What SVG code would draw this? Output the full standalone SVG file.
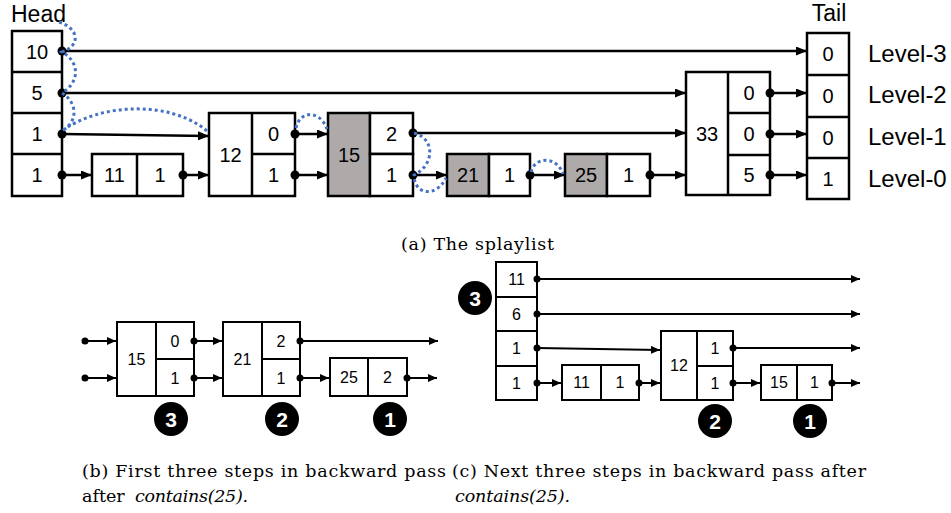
<svg xmlns="http://www.w3.org/2000/svg" width="951" height="513" viewBox="0 0 951 513">
<defs>
<marker id="ah" markerWidth="11" markerHeight="9" refX="10" refY="4.5" orient="auto" markerUnits="userSpaceOnUse"><path d="M0,0 L11,4.5 L0,9 z" fill="#000"/></marker>
<marker id="ahs" markerWidth="9" markerHeight="8" refX="9" refY="4" orient="auto" markerUnits="userSpaceOnUse"><path d="M0,0 L9,4 L0,8 z" fill="#000"/></marker>
</defs>
<style>
.box{fill:#fff;stroke:#000;stroke-width:2.5}
.gray{fill:#AEAAAA;stroke:#000;stroke-width:2.5}
.bx{fill:#fff;stroke:#000;stroke-width:2}
.dv{stroke:#000;stroke-width:2.5;fill:none}
.dvs{stroke:#000;stroke-width:2;fill:none}
.n{font-family:"Liberation Sans",Arial,sans-serif;font-size:20px;text-anchor:middle;fill:#000}
.ns{font-family:"Liberation Sans",Arial,sans-serif;font-size:16px;text-anchor:middle;fill:#000}
.lbl{font-family:"Liberation Sans",Arial,sans-serif;font-size:24px;fill:#000}
.ln{stroke:#000;stroke-width:2.5;fill:none;marker-end:url(#ah)}
.lns{stroke:#000;stroke-width:2;fill:none;marker-end:url(#ahs)}
.dot{fill:#000}
.sp{stroke:#4472C4;stroke-width:3;stroke-dasharray:3 3;fill:none}
.cap{font-family:"DejaVu Serif","Liberation Serif",serif;font-size:17.5px;fill:#000}
.it{font-style:italic}
.badge{fill:#000}
.bt{font-family:"Liberation Sans",Arial,sans-serif;font-size:21px;font-weight:bold;fill:#fff;text-anchor:middle}
</style>
<rect width="951" height="513" fill="#fff"/>

<!-- (a) labels -->
<text class="lbl" x="11" y="22" style="font-size:23px">Head</text>
<text class="lbl" x="829" y="21" text-anchor="middle" style="font-size:23px">Tail</text>
<text class="lbl" x="868" y="62">Level-3</text>
<text class="lbl" x="868" y="103">Level-2</text>
<text class="lbl" x="868" y="145">Level-1</text>
<text class="lbl" x="868" y="187">Level-0</text>

<g id="connectors">
<g id="conn-a">
<line class="ln" x1="62" y1="51" x2="806" y2="51"/>
<line class="ln" x1="62" y1="93" x2="685" y2="93"/>
<line class="ln" x1="770" y1="93" x2="806" y2="93"/>
<line class="ln" x1="62" y1="134" x2="208" y2="136"/>
<line class="ln" x1="295" y1="134" x2="327" y2="134"/>
<line class="ln" x1="413" y1="133" x2="685" y2="133"/>
<line class="ln" x1="770" y1="134" x2="806" y2="134"/>
<line class="ln" x1="62" y1="175" x2="91" y2="175"/>
<line class="ln" x1="183" y1="175" x2="208" y2="175"/>
<line class="ln" x1="295" y1="175" x2="327" y2="175"/>
<line class="ln" x1="413" y1="175" x2="446" y2="175"/>
<line class="ln" x1="530" y1="175" x2="564" y2="175"/>
<line class="ln" x1="650" y1="175" x2="685" y2="175"/>
<line class="ln" x1="770" y1="175" x2="806" y2="175"/>
</g>
<g id="conn-b">
<line class="lns" x1="85" y1="341" x2="116" y2="341"/>
<line class="lns" x1="85" y1="378" x2="116" y2="378"/>
<line class="lns" x1="194" y1="341" x2="222" y2="341"/>
<line class="lns" x1="194" y1="378" x2="222" y2="378"/>
<line class="lns" x1="300" y1="341" x2="438" y2="341"/>
<line class="lns" x1="300" y1="378" x2="329" y2="378"/>
<line class="lns" x1="407" y1="378" x2="437" y2="378"/>
</g>
<g id="conn-c">
<line class="lns" x1="537" y1="279" x2="860" y2="279"/>
<line class="lns" x1="537" y1="314" x2="860" y2="314"/>
<line class="lns" x1="537" y1="348" x2="660" y2="350"/>
<line class="lns" x1="733" y1="348" x2="860" y2="348"/>
<line class="lns" x1="537" y1="383" x2="561" y2="383"/>
<line class="lns" x1="639" y1="383" x2="660" y2="383"/>
<line class="lns" x1="733" y1="383" x2="760" y2="383"/>
<line class="lns" x1="832" y1="383" x2="860" y2="383"/>
</g>
</g>

<!-- (a) nodes -->
<g id="head">
<rect class="box" x="12" y="31" width="50" height="165"/>
<path class="dv" d="M12,72H62M12,113H62M12,154H62"/>
<text class="n" x="37" y="58.5">10</text>
<text class="n" x="37" y="99.5">5</text>
<text class="n" x="37" y="140.5">1</text>
<text class="n" x="37" y="182">1</text>
</g>
<g id="node11">
<rect class="box" x="92" y="154" width="91" height="42"/>
<path class="dv" d="M137,154V196"/>
<text class="n" x="114.5" y="182">11</text>
<text class="n" x="160" y="182">1</text>
</g>
<g id="node12">
<rect class="box" x="209" y="113" width="86" height="83"/>
<path class="dv" d="M252,113V196M252,154H295"/>
<text class="n" x="230.5" y="161.5">12</text>
<text class="n" x="273.5" y="140.5">0</text>
<text class="n" x="273.5" y="182">1</text>
</g>
<g id="node15">
<rect class="gray" x="328" y="113" width="42" height="83"/>
<rect class="box" x="370" y="113" width="43" height="41"/>
<rect class="box" x="370" y="154" width="43" height="42"/>
<text class="n" x="349" y="161.5">15</text>
<text class="n" x="391.5" y="140.5">2</text>
<text class="n" x="391.5" y="182">1</text>
</g>
<g id="node21">
<rect class="gray" x="447" y="154" width="42" height="42"/>
<rect class="box" x="489" y="154" width="41" height="42"/>
<text class="n" x="468" y="182">21</text>
<text class="n" x="509.5" y="182">1</text>
</g>
<g id="node25">
<rect class="gray" x="565" y="154" width="42" height="42"/>
<rect class="box" x="607" y="154" width="43" height="42"/>
<text class="n" x="586" y="182">25</text>
<text class="n" x="628.5" y="182">1</text>
</g>
<g id="node33">
<rect class="box" x="686" y="72" width="84" height="123"/>
<path class="dv" d="M728,72V195M728,113H770M728,155H770"/>
<text class="n" x="707" y="140.5">33</text>
<text class="n" x="749" y="99.5">0</text>
<text class="n" x="749" y="141">0</text>
<text class="n" x="749" y="182">5</text>
</g>
<g id="tail">
<rect class="box" x="807" y="33" width="42" height="166"/>
<path class="dv" d="M807,75H849M807,117H849M807,158H849"/>
<text class="n" x="828" y="61">0</text>
<text class="n" x="828" y="103">0</text>
<text class="n" x="828" y="144.5">0</text>
<text class="n" x="828" y="185.5">1</text>
</g>

<g id="dots-a">
<circle class="dot" cx="62" cy="51" r="4.5"/>
<circle class="dot" cx="62" cy="93" r="4.5"/>
<circle class="dot" cx="62" cy="134" r="4.5"/>
<circle class="dot" cx="62" cy="175" r="4.5"/>
<circle class="dot" cx="183" cy="175" r="4.5"/>
<circle class="dot" cx="295" cy="134" r="4.5"/>
<circle class="dot" cx="295" cy="175" r="4.5"/>
<circle class="dot" cx="413" cy="133" r="4.5"/>
<circle class="dot" cx="413" cy="175" r="4.5"/>
<circle class="dot" cx="530" cy="175" r="4.5"/>
<circle class="dot" cx="650" cy="175" r="4.5"/>
<circle class="dot" cx="770" cy="93" r="4.5"/>
<circle class="dot" cx="770" cy="134" r="4.5"/>
<circle class="dot" cx="770" cy="175" r="4.5"/>
</g>

<g id="search-path">
<path class="sp" d="M59,22 C78,28 82,45 62,52 C80,62 80,82 62,93 C78,103 78,122 62,131 C100,103 170,100 207,131"/>
<path class="sp" d="M296,128 C300,110 320,110 327,129"/>
<path class="sp" d="M414,133 C435,138 435,165 414,175 C414,195 436,198 446,178"/>
<path class="sp" d="M531,172 C535,156 557,156 563,174"/>
</g>

<text class="cap" x="401" y="250" textLength="153">(a) The splaylist</text>

<!-- (b) -->
<g id="b-node15">
<rect class="bx" x="117" y="322" width="77" height="74"/>
<path class="dvs" d="M156,322V396M156,359H194"/>
<text class="ns" x="136.5" y="365">15</text>
<text class="ns" x="175" y="346.5">0</text>
<text class="ns" x="175" y="384">1</text>
</g>
<g id="b-node21">
<rect class="bx" x="223" y="322" width="77" height="74"/>
<path class="dvs" d="M262,322V396M262,359H300"/>
<text class="ns" x="242.5" y="365">21</text>
<text class="ns" x="281" y="346.5">2</text>
<text class="ns" x="281" y="384">1</text>
</g>
<g id="b-node25">
<rect class="bx" x="330" y="358" width="77" height="38"/>
<path class="dvs" d="M368,358V396"/>
<text class="ns" x="349" y="383">25</text>
<text class="ns" x="387.5" y="383">2</text>
</g>
<g id="dots-b">
<circle class="dot" cx="85" cy="341" r="3.5"/>
<circle class="dot" cx="85" cy="378" r="3.5"/>
<circle class="dot" cx="194" cy="341" r="3.5"/>
<circle class="dot" cx="194" cy="378" r="3.5"/>
<circle class="dot" cx="300" cy="341" r="3.5"/>
<circle class="dot" cx="300" cy="378" r="3.5"/>
<circle class="dot" cx="407" cy="378" r="3.5"/>
</g>
<g id="b-step3"><circle class="badge" cx="171" cy="419" r="17"/><text class="bt" x="171" y="426.5">3</text></g>
<g id="b-step2"><circle class="badge" cx="282" cy="419" r="17"/><text class="bt" x="282" y="426.5">2</text></g>
<g id="b-step1"><circle class="badge" cx="390" cy="419" r="17"/><text class="bt" x="390" y="426.5">1</text></g>

<!-- (c) -->
<g id="c-head">
<rect class="bx" x="496" y="262" width="41" height="138"/>
<path class="dvs" d="M496,297H537M496,331H537M496,366H537"/>
<text class="ns" x="516.5" y="285">11</text>
<text class="ns" x="516.5" y="320">6</text>
<text class="ns" x="516.5" y="354">1</text>
<text class="ns" x="516.5" y="389">1</text>
</g>
<g id="c-node11">
<rect class="bx" x="562" y="365" width="77" height="35"/>
<path class="dvs" d="M601,365V400"/>
<text class="ns" x="581.5" y="388">11</text>
<text class="ns" x="620" y="388">1</text>
</g>
<g id="c-node12">
<rect class="bx" x="661" y="331" width="72" height="69"/>
<path class="dvs" d="M697,331V400M697,366H733"/>
<text class="ns" x="679" y="371">12</text>
<text class="ns" x="715" y="354">1</text>
<text class="ns" x="715" y="389">1</text>
</g>
<g id="c-node15">
<rect class="bx" x="761" y="365" width="71" height="35"/>
<path class="dvs" d="M797,365V400"/>
<text class="ns" x="779" y="388">15</text>
<text class="ns" x="814.5" y="388">1</text>
</g>
<g id="dots-c">
<circle class="dot" cx="537" cy="279" r="3.5"/>
<circle class="dot" cx="537" cy="314" r="3.5"/>
<circle class="dot" cx="537" cy="348" r="3.5"/>
<circle class="dot" cx="537" cy="383" r="3.5"/>
<circle class="dot" cx="639" cy="383" r="3.5"/>
<circle class="dot" cx="733" cy="348" r="3.5"/>
<circle class="dot" cx="733" cy="383" r="3.5"/>
<circle class="dot" cx="832" cy="383" r="3.5"/>
</g>
<g id="c-step3"><circle class="badge" cx="475" cy="298" r="17"/><text class="bt" x="475" y="305.5">3</text></g>
<g id="c-step2"><circle class="badge" cx="715" cy="421" r="17"/><text class="bt" x="715" y="428.5">2</text></g>
<g id="c-step1"><circle class="badge" cx="810" cy="421" r="17"/><text class="bt" x="810" y="428.5">1</text></g>

<!-- captions -->
<text class="cap" x="82" y="477" textLength="364">(b) First three steps in backward pass</text>
<text class="cap" x="82" y="502">after</text>
<text class="cap it" x="135" y="502" textLength="113">contains(25).</text>
<text class="cap" x="452" y="477" textLength="414">(c) Next three steps in backward pass after</text>
<text class="cap it" x="455" y="502" textLength="115">contains(25).</text>
</svg>
